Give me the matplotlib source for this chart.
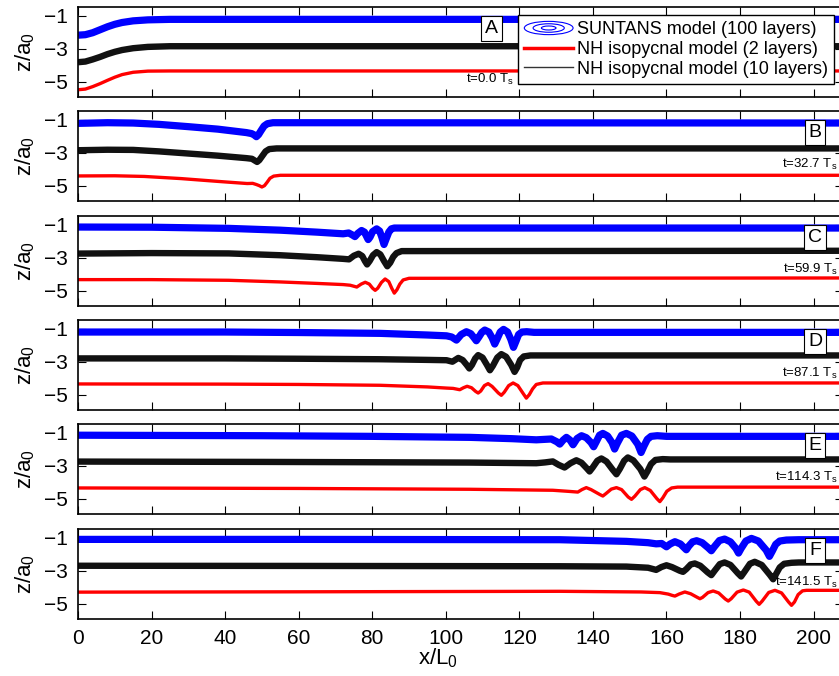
import numpy as np
import matplotlib
matplotlib.use('Agg')
import matplotlib.pyplot as plt
from matplotlib.patches import Ellipse
from matplotlib.lines import Line2D
from matplotlib.legend_handler import HandlerBase

plt.rcParams['font.family'] = ['Liberation Sans', 'DejaVu Sans']
plt.rcParams['mathtext.fontset'] = 'custom'
plt.rcParams['mathtext.rm'] = 'Liberation Sans'
plt.rcParams['mathtext.it'] = 'Liberation Sans:italic'

# interface positions (x/L0, z/a0)
# panel A, t = 0.0 Ts
blue_a = [(0, -2.18), (2, -2.15), (4, -2.03), (6, -1.85), (8, -1.67), (10, -1.52), (12, -1.41),
          (15, -1.31), (19, -1.25), (25, -1.22), (208, -1.22)]
black_a = [(0, -3.82), (2, -3.78), (4, -3.65), (6, -3.5), (8, -3.33), (10, -3.19), (12, -3.08),
           (15, -2.97), (19, -2.89), (25, -2.85), (208, -2.85)]
red_a = [(0, -5.49), (2, -5.45), (4, -5.3), (6, -5.12), (8, -4.92), (10, -4.73), (12, -4.57),
         (15, -4.43), (19, -4.36), (25, -4.35), (208, -4.35)]

# panel B, t = 32.7 Ts
blue_b = [(0, -1.22), (8, -1.18), (15, -1.2), (22, -1.28), (30, -1.42), (38, -1.57), (45.8, -1.78),
          (47.2, -1.84), (47.9, -1.92), (48.5, -2.03), (49.1, -1.9), (49.8, -1.65), (50.6, -1.38),
          (51.5, -1.24), (53, -1.18), (208, -1.2)]
black_b = [(0, -2.85), (8, -2.82), (15, -2.83), (22, -2.92), (30, -3.05), (38, -3.18), (45.8, -3.33),
           (47.3, -3.37), (48.1, -3.48), (48.7, -3.56), (49.3, -3.45), (50.1, -3.2), (51, -2.92),
           (52, -2.78), (54, -2.74), (208, -2.74)]
red_b = [(0, -4.41), (10, -4.4), (18, -4.44), (28, -4.57), (38, -4.74), (46, -4.87), (47.5, -4.86),
         (48.5, -4.93), (49.3, -5.0), (50, -5.08), (50.7, -5.0), (51.4, -4.8), (52.2, -4.55),
         (53.2, -4.42), (55, -4.37), (208, -4.37)]

# panel C, t = 59.9 Ts
blue_c = [(0, -1.14), (20, -1.15), (41, -1.22), (55, -1.33), (65, -1.45), (72.1, -1.55), (73.6, -1.5),
          (74.6, -1.62), (75.3, -1.72), (76.1, -1.52), (77.1, -1.35), (77.9, -1.45), (78.5, -1.72),
          (78.9, -1.9), (79.4, -1.75), (80.1, -1.42), (81.2, -1.25), (82.0, -1.38), (82.6, -1.75),
          (83.2, -2.2), (83.8, -1.85), (84.5, -1.45), (85.2, -1.25), (86, -1.2), (208, -1.2)]
black_c = [(0, -2.75), (20, -2.72), (41, -2.74), (55, -2.85), (65, -2.97), (72.1, -3.07), (73.7, -3.1),
           (75, -2.88), (76.3, -2.76), (77.3, -2.9), (78.0, -3.2), (78.6, -3.41), (79.3, -3.2),
           (80.2, -2.85), (81.2, -2.66), (82.2, -2.8), (83.2, -3.2), (84.1, -3.52), (84.9, -3.3),
           (85.7, -2.95), (86.6, -2.72), (88, -2.6), (208, -2.58)]
red_c = [(0, -4.33), (20, -4.33), (41, -4.37), (55, -4.47), (65, -4.56), (72.1, -4.63), (74, -4.67),
         (75.8, -4.78), (77, -4.6), (78.1, -4.49), (79.2, -4.6), (80.1, -4.85), (80.8, -4.98),
         (81.5, -4.85), (82.5, -4.5), (83.5, -4.29), (84.5, -4.45), (85.3, -4.85), (86.0, -5.15),
         (86.7, -4.95), (87.5, -4.6), (88.4, -4.35), (90, -4.25), (208, -4.23)]

# panel D, t = 87.1 Ts
blue_d = [(0, -1.2), (40, -1.2), (60, -1.23), (82.1, -1.28), (95, -1.38), (100.2, -1.43), (101.6, -1.5),
          (102.9, -1.69), (104.2, -1.35), (105.6, -1.18), (106.8, -1.3), (107.7, -1.55), (108.3, -1.73),
          (109, -1.5), (109.8, -1.22), (110.6, -1.08), (111.7, -1.2), (112.6, -1.55), (113.3, -1.93),
          (114, -1.6), (114.8, -1.2), (115.7, -1.04), (116.8, -1.2), (117.7, -1.65), (118.4, -2.13),
          (119.1, -1.75), (119.8, -1.35), (120.7, -1.2), (122, -1.18), (124, -1.22), (208, -1.22)]
black_d = [(0, -2.8), (40, -2.8), (60, -2.82), (82.1, -2.85), (95, -2.89), (100.2, -2.91), (101.8, -3.0),
           (103.4, -2.77), (104.6, -2.9), (105.7, -3.2), (106.4, -3.41), (107.1, -3.2), (108, -2.8),
           (108.8, -2.6), (110, -2.75), (111.2, -3.2), (112, -3.52), (112.8, -3.25), (114, -2.75),
           (115.1, -2.54), (116.4, -2.7), (117.8, -3.2), (118.7, -3.62), (119.4, -3.35), (120.2, -2.9),
           (121.2, -2.68), (123, -2.62), (208, -2.62)]
red_d = [(0, -4.35), (40, -4.36), (60, -4.38), (82.1, -4.43), (95, -4.53), (100.2, -4.6), (102, -4.62),
         (103.8, -4.7), (104.8, -4.58), (105.8, -4.49), (107, -4.58), (108.1, -4.8), (108.8, -4.9),
         (109.5, -4.78), (110.5, -4.45), (111.5, -4.33), (112.6, -4.5), (114.3, -4.9), (115.1, -5.04),
         (115.9, -4.85), (117.1, -4.45), (118.3, -4.29), (119.6, -4.45), (121.1, -4.95), (121.9, -5.21),
         (122.7, -5.0), (123.6, -4.65), (124.6, -4.38), (126.4, -4.29), (208, -4.29)]

# panel E, t = 114.3 Ts
blue_e = [(0, -1.15), (50, -1.18), (80, -1.22), (106.5, -1.28), (118, -1.36), (124.6, -1.43), (128.7, -1.38),
          (130.2, -1.55), (131, -1.69), (131.9, -1.45), (132.8, -1.28), (133.8, -1.45), (134.6, -1.73),
          (135.7, -1.35), (136.9, -1.18), (138.2, -1.3), (139.5, -1.6), (140.2, -1.85), (140.9, -1.55),
          (141.8, -1.15), (142.7, -1.04), (144.0, -1.2), (145.2, -1.6), (145.9, -1.99), (146.6, -1.65),
          (147.8, -1.15), (149.1, -1.04), (150.6, -1.2), (152.2, -1.7), (153.1, -2.2), (153.9, -1.8),
          (154.8, -1.4), (155.8, -1.22), (157.5, -1.18), (160, -1.22), (208, -1.22)]
black_e = [(0, -2.75), (50, -2.77), (80, -2.79), (106.5, -2.81), (124.6, -2.85), (127, -2.8), (129.1, -2.74),
           (130.7, -2.95), (132.3, -3.11), (133.9, -2.85), (135.5, -2.67), (136.9, -2.82), (138.3, -3.15),
           (139.1, -3.35), (139.9, -3.12), (141.2, -2.7), (142.3, -2.56), (143.7, -2.75), (145.4, -3.25),
           (146.4, -3.52), (147.3, -3.2), (148.5, -2.7), (149.5, -2.5), (151, -2.68), (152.9, -3.2),
           (154, -3.66), (154.8, -3.35), (155.8, -2.9), (157, -2.65), (159, -2.6), (161, -2.62), (208, -2.62)]
red_e = [(0, -4.35), (60, -4.38), (106.5, -4.43), (129.1, -4.49), (133.6, -4.56), (135.9, -4.6), (137, -4.45),
         (138.2, -4.33), (139.5, -4.45), (141.9, -4.75), (142.7, -4.84), (143.5, -4.7), (145, -4.42),
         (146.4, -4.33), (147.8, -4.45), (149.6, -4.9), (150.5, -5.04), (151.4, -4.85), (152.9, -4.45),
         (154.1, -4.33), (155.6, -4.5), (157.4, -5.0), (158.2, -5.18), (159, -4.95), (160.1, -4.55),
         (161.4, -4.35), (163, -4.3), (208, -4.3)]

# panel F, t = 141.5 Ts
blue_f = [(0, -1.1), (60, -1.1), (131, -1.12), (149.1, -1.22), (155, -1.3), (157.2, -1.37), (158.7, -1.35),
          (160, -1.55), (161, -1.38), (162.3, -1.24), (163.8, -1.38), (164.8, -1.6), (165.4, -1.73),
          (166.1, -1.5), (167.1, -1.25), (168.2, -1.18), (169.7, -1.3), (171.3, -1.6), (172.2, -1.79),
          (173, -1.55), (174.4, -1.17), (175.8, -1.08), (177.4, -1.25), (178.9, -1.65), (179.6, -1.93),
          (180.3, -1.65), (181.6, -1.2), (183.1, -1.04), (185, -1.2), (187.1, -1.75), (188, -2.13),
          (188.8, -1.8), (189.7, -1.4), (190.8, -1.2), (192.6, -1.14), (196, -1.12), (208, -1.12)]
black_f = [(0, -2.7), (60, -2.71), (131, -2.73), (149.1, -2.75), (155, -2.82), (157.2, -2.95), (158.6, -2.78),
           (160, -2.67), (161.5, -2.78), (163.6, -3.0), (164.5, -3.07), (165.4, -2.9), (166.6, -2.62),
           (167.7, -2.56), (169.2, -2.7), (171.2, -3.1), (172.2, -3.27), (173.1, -3.0), (174.5, -2.6),
           (175.8, -2.5), (177.4, -2.65), (179.4, -3.15), (180.3, -3.35), (181.1, -3.1), (182.7, -2.58),
           (184, -2.46), (185.9, -2.65), (188.1, -3.25), (189, -3.52), (189.8, -3.2), (190.8, -2.8),
           (192, -2.58), (194, -2.52), (196, -2.5), (208, -2.5)]
red_f = [(0, -4.3), (60, -4.28), (131, -4.25), (153.1, -4.29), (158.2, -4.33), (160.5, -4.42), (161.6, -4.5),
         (162.3, -4.54), (163.4, -4.42), (165, -4.29), (166.6, -4.4), (168.4, -4.62), (169.1, -4.7),
         (169.8, -4.62), (171.3, -4.33), (172.7, -4.23), (174.2, -4.35), (176.0, -4.72), (176.8, -4.84),
         (177.6, -4.7), (179.2, -4.3), (180.9, -4.17), (182.5, -4.3), (184.4, -4.85), (185.2, -5.04),
         (186, -4.85), (187.8, -4.32), (189.5, -4.19), (191.3, -4.35), (193.2, -4.9), (194, -5.1),
         (194.8, -4.9), (195.8, -4.45), (197, -4.22), (198.1, -4.19), (208, -4.19)]

panel_labels = ['A', 'B', 'C', 'D', 'E', 'F']
panel_times = ['0.0', '32.7', '59.9', '87.1', '114.3', '141.5']
blue_all = [blue_a, blue_b, blue_c, blue_d, blue_e, blue_f]
black_all = [black_a, black_b, black_c, black_d, black_e, black_f]
red_all = [red_a, red_b, red_c, red_d, red_e, red_f]
x_ticks = [0, 20, 40, 60, 80, 100, 120, 140, 160, 180, 200]
y_ticks = [-1, -3, -5]


class HandlerEllipses(HandlerBase):
    # concentric ellipses for the 100-layer SUNTANS entry
    def create_artists(self, legend, orig_handle, xdescent, ydescent,
                       width, height, fontsize, trans):
        cx = width / 2 - xdescent
        cy = height / 2 - ydescent
        arts = []
        for f in (1.0, 0.64, 0.3):
            arts.append(Ellipse((cx, cy), width * f, height * 1.05 * f, fill=False,
                                edgecolor='blue', lw=0.8, transform=trans))
        return arts


W, H = 839, 676
fig = plt.figure(figsize=(W / 100, H / 100), dpi=100)
panel_tops = [7, 111, 216, 320, 424, 529]

axes = []
for i, top in enumerate(panel_tops):
    ax = fig.add_axes([78 / W, 1 - (top + 90) / H, 765 / W, 90 / H])
    axes.append(ax)

    for pts, col, lw in ((blue_all[i], 'blue', 5.2),
                         (black_all[i], '#111111', 4.6),
                         (red_all[i], 'red', 2.4)):
        xs, ys = zip(*pts)
        ax.plot(xs, ys, color=col, lw=lw, solid_joinstyle='round',
                solid_capstyle='butt')

    ax.set_xlim(0, 208)
    ax.set_ylim(-5.93, -0.47)
    ax.set_xticks(x_ticks)
    ax.set_yticks(y_ticks)
    ax.tick_params(direction='in', length=5.5, width=0.8, top=True, right=True,
                   labelsize=15, pad=7)
    for sp in ax.spines.values():
        sp.set_linewidth(1.2)
    if i < 5:
        ax.set_xticklabels([])
    ax.set_ylabel('z/a$_\\mathregular{0}$', fontsize=16)
    ax.yaxis.set_label_coords(-0.054, 0.5)

    # panel letter and time stamp
    shift = 87.9 if i == 0 else 0
    ax.text(200.4 - shift, 0.76, panel_labels[i], transform=ax.get_xaxis_transform(),
            ha='center', va='center', fontsize=14, zorder=5,
            bbox=dict(boxstyle='square,pad=0.2', fc='white', ec='black', lw=0.8))
    ax.text(206.6 - shift, 0.19 if i == 0 else 0.41,
            't=' + panel_times[i] + ' T$_\\mathregular{s}$',
            transform=ax.get_xaxis_transform(), ha='right', va='center',
            fontsize=9.5, zorder=5, clip_on=False)

axes[-1].set_xlabel('x/L$_\\mathregular{0}$', fontsize=16)
axes[-1].xaxis.set_label_coords(0.47, -0.3)

blue_proxy = Line2D([], [], color='blue')
red_proxy = Line2D([], [], color='red', lw=2.5)
black_proxy = Line2D([], [], color='#333333', lw=1.0)
leg = axes[0].legend([blue_proxy, red_proxy, black_proxy],
                     ['SUNTANS model (100 layers)', 'NH isopycnal model (2 layers)',
                      'NH isopycnal model (10 layers)'],
                     handler_map={blue_proxy: HandlerEllipses()},
                     loc='upper left', bbox_to_anchor=(518 / W, 1 - 15 / H),
                     bbox_transform=fig.transFigure, borderaxespad=0,
                     fontsize=13, fancybox=False, framealpha=1, edgecolor='black',
                     borderpad=0.35, labelspacing=0.15, handlelength=2.7,
                     handletextpad=0.2)
leg.get_frame().set_linewidth(1.0)
leg.set_zorder(10)

fig.savefig('out.png', dpi=100)
